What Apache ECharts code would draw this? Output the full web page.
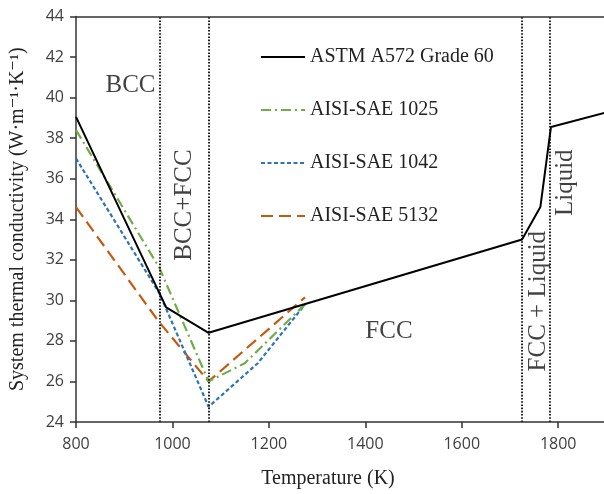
<!DOCTYPE html>
<html>
<head>
<meta charset="utf-8">
<script src="https://cdn.jsdelivr.net/npm/echarts@6/dist/echarts.min.js"></script>
<style>
html,body{margin:0;padding:0;background:#fff;}
#c{width:604px;height:494px;}
</style>
</head>
<body>
<div id="c"></div>
<script>
// ---- data ----
const seriesNames = ['ASTM A572 Grade 60', 'AISI-SAE 1025', 'AISI-SAE 1042', 'AISI-SAE 5132'];
const astmA572 = [[800, 39.05], [987, 29.65], [1075, 28.4], [1725, 33.0], [1763, 34.6], [1785, 38.55], [1900, 39.27]];
const sae1025 = [[800, 38.4], [973, 31.6], [1075, 26.0], [1150, 26.9], [1275, 29.8]];
const sae1042 = [[800, 37.0], [973, 30.35], [1075, 24.75], [1177, 26.9], [1275, 29.8]];
const sae5132 = [[800, 34.6], [970, 29.0], [1075, 26.0], [1275, 30.15]];
const phaseBoundaries = [973, 1075, 1724, 1783];
const phaseLabels = [
  { text: 'BCC', x: 913, y: 40.6, rotate: 0 },
  { text: 'BCC+FCC', x: 1024, y: 34.7, rotate: 90 },
  { text: 'FCC', x: 1449, y: 28.45, rotate: 0 },
  { text: 'FCC + Liquid', x: 1760, y: 29.96, rotate: 90 },
  { text: 'Liquid', x: 1815, y: 35.8, rotate: 90 }
];
const xTicks = { min: 800, max: 1895, interval: 200 };
const yTicks = { min: 24, max: 44, interval: 2 };

const serif = "'Liberation Serif', 'DejaVu Serif', 'Times New Roman', serif";
const sans = "'Open Sans', 'Liberation Sans', sans-serif";

const chart = echarts.init(document.getElementById('c'), null, { renderer: 'canvas' });

const lineStyles = [
  { color: '#000000', width: 2, type: 'solid' },
  { color: '#70ad47', width: 2.2, type: [10, 4, 2, 4] },
  { color: '#2e75b6', width: 2.2, type: [4, 2.5] },
  { color: '#c55a11', width: 2.2, type: [12, 6] }
];
const datasets = [astmA572, sae1025, sae1042, sae5132];

const series = datasets.map((d, i) => ({
  name: seriesNames[i],
  type: 'line',
  data: d,
  symbol: 'none',
  clip: true,
  z: 5 - i,
  lineStyle: lineStyles[i],
  itemStyle: { color: lineStyles[i].color }
}));

series.push({
  name: 'boundaries',
  type: 'line',
  data: [],
  markLine: {
    silent: true,
    symbol: ['none', 'none'],
    label: { show: false },
    lineStyle: { color: '#222', width: 2, type: [1.6, 1.6] },
    data: phaseBoundaries.map(v => ({ xAxis: v }))
  }
});

series.push({
  name: 'phases',
  type: 'scatter',
  symbolSize: 0,
  silent: true,
  data: phaseLabels.map(p => ({
    value: [p.x, p.y],
    name: p.text,
    label: { rotate: p.rotate }
  })),
  label: {
    show: true,
    position: 'inside',
    formatter: p => p.name,
    fontFamily: serif,
    fontSize: 25,
    color: '#111'
  }
});

chart.setOption({
  animation: false,
  backgroundColor: '#fff',
  grid: { left: 74.5, right: 0, top: 16.5, bottom: 68 },
  legend: {
    data: seriesNames,
    orient: 'vertical',
    left: 255,
    top: 42,
    itemWidth: 44,
    itemHeight: 14,
    itemGap: 33,
    itemStyle: { opacity: 0 },
    textStyle: { fontFamily: serif, fontSize: 20, color: '#222' }
  },
  xAxis: [{
    type: 'value',
    min: xTicks.min,
    max: xTicks.max,
    interval: xTicks.interval,
    name: 'Temperature (K)',
    nameLocation: 'middle',
    nameGap: 47,
    nameTextStyle: { fontFamily: serif, fontSize: 20, color: '#222', padding: [0, 24, 0, 0] },
    axisLine: { lineStyle: { color: '#333', width: 1.5 } },
    axisTick: { show: true, inside: false, length: 6, lineStyle: { color: '#333', width: 1.5 } },
    axisLabel: {
      margin: 14,
      fontFamily: sans,
      fontSize: 16,
      color: '#404040',
      showMaxLabel: false,
      formatter: v => (v % 200 === 0 ? String(v) : '')
    },
    splitLine: { show: false }
  }, {
    type: 'value',
    position: 'top',
    min: xTicks.min,
    max: xTicks.max,
    axisLine: { show: true, lineStyle: { color: '#333', width: 1.5 } },
    axisTick: { show: false },
    axisLabel: { show: false },
    splitLine: { show: false }
  }],
  yAxis: {
    type: 'value',
    min: yTicks.min,
    max: yTicks.max,
    interval: yTicks.interval,
    name: 'System thermal conductivity (W·m⁻¹·K⁻¹)',
    nameLocation: 'middle',
    nameRotate: 90,
    nameGap: 48,
    nameTextStyle: { fontFamily: serif, fontSize: 20, color: '#222' },
    axisLine: { show: true, lineStyle: { color: '#333', width: 1.5 } },
    axisTick: { show: true, inside: false, length: 6, lineStyle: { color: '#333', width: 1.5 } },
    axisLabel: { margin: 12, fontFamily: sans, fontSize: 16, color: '#404040' },
    splitLine: { show: false }
  },
  series: series
});
</script>
</body>
</html>
